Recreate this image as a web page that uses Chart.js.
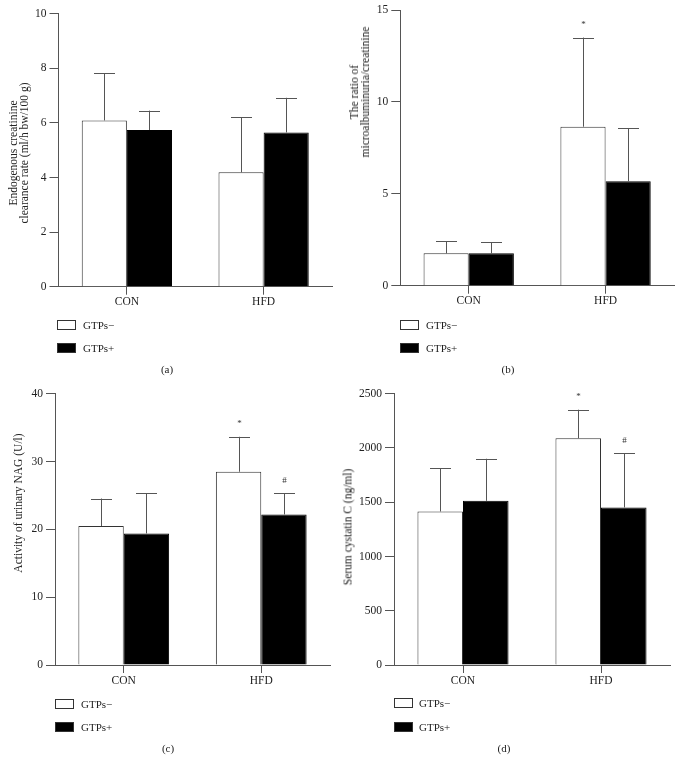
<!DOCTYPE html>
<html>
<head>
<meta charset="utf-8">
<script src="https://cdn.jsdelivr.net/npm/chart.js@4.4.1/dist/chart.umd.min.js"></script>
<style>
    body { margin: 0; background: #fff; font-family: "Liberation Serif", "DejaVu Serif", serif; color: #222; }
    #page { position: relative; width: 682px; height: 770px; overflow: hidden; }
    .panel { position: absolute; width: 341px; height: 385px; }
    .panel canvas { position: absolute; left: 0; top: 0; }
    .ytitle { position: absolute; transform: translate(-50%, -50%) rotate(-90deg); white-space: nowrap;
              text-align: center; font-size: 11.5px; line-height: 11px; }
    .box { position: absolute; width: 17px; height: 8px; border: 1px solid #333; }
    .box.white { background: #fff; }
    .box.black { background: #000; }
    .legtext { position: absolute; font-size: 11px; line-height: 11px; transform: translateY(-50%); }
    .caption { position: absolute; font-size: 11px; transform: translate(-50%, -50%); }
</style>
</head>
<body>
<div id="page">
    <div class="panel" style="left:0;top:0"><canvas id="chartA" width="341" height="385"></canvas></div>
    <div class="panel" style="left:341px;top:0"><canvas id="chartB" width="341" height="385"></canvas></div>
    <div class="panel" style="left:0;top:385px"><canvas id="chartC" width="341" height="385"></canvas></div>
    <div class="panel" style="left:341px;top:385px"><canvas id="chartD" width="341" height="385"></canvas></div>

    <div class="ytitle" style="left:19px;top:153px">Endogenous creatinine<br>clearance rate (ml/h bw/100 g)</div>
    <div class="ytitle" style="left:360px;top:92px">The ratio of<br>microalbuminuria/creatinine</div>
    <div class="ytitle" style="left:18px;top:503px">Activity of urinary NAG (U/l)</div>
    <div class="ytitle" style="left:348px;top:527px">Serum cystatin C (ng/ml)</div>

    <div class="box white" style="left:57px;top:320px"></div><div class="legtext" style="left:83px;top:325px">GTPs−</div>
    <div class="box black" style="left:57px;top:343px"></div><div class="legtext" style="left:83px;top:348px">GTPs+</div>
    <div class="caption" style="left:167px;top:369px">(a)</div>

    <div class="box white" style="left:400px;top:320px"></div><div class="legtext" style="left:426px;top:325px">GTPs−</div>
    <div class="box black" style="left:400px;top:343px"></div><div class="legtext" style="left:426px;top:348px">GTPs+</div>
    <div class="caption" style="left:508px;top:369px">(b)</div>

    <div class="box white" style="left:55px;top:699px"></div><div class="legtext" style="left:81px;top:704px">GTPs−</div>
    <div class="box black" style="left:55px;top:722px"></div><div class="legtext" style="left:81px;top:727px">GTPs+</div>
    <div class="caption" style="left:168px;top:748px">(c)</div>

    <div class="box white" style="left:394px;top:698px"></div><div class="legtext" style="left:419px;top:703px">GTPs−</div>
    <div class="box black" style="left:394px;top:722px"></div><div class="legtext" style="left:419px;top:727px">GTPs+</div>
    <div class="caption" style="left:504px;top:748px">(d)</div>
</div>

<script>
const categories = ["CON", "HFD"];
const groupLabels = ["GTPs−", "GTPs+"];

// (a) endogenous creatinine clearance rate
const ccrTicks = [0, 2, 4, 6, 8, 10];
const ccrMinus = [6.09, 4.19];
const ccrMinusSd = [1.72, 2.02];
const ccrPlus = [5.74, 5.65];
const ccrPlusSd = [0.71, 1.27];
const ccrMarksMinus = ["", ""];
const ccrMarksPlus = ["", ""];

// (b) microalbuminuria / creatinine
const malbTicks = [0, 5, 10, 15];
const malbMinus = [1.76, 8.65];
const malbMinusSd = [0.65, 4.85];
const malbPlus = [1.76, 5.68];
const malbPlusSd = [0.60, 2.90];
const malbMarksMinus = ["", "*"];
const malbMarksPlus = ["", ""];

// (c) urinary NAG
const nagTicks = [0, 10, 20, 30, 40];
const nagMinus = [20.5, 28.5];
const nagMinusSd = [4.05, 5.15];
const nagPlus = [19.4, 22.2];
const nagPlusSd = [5.95, 3.10];
const nagMarksMinus = ["", "*"];
const nagMarksPlus = ["", "#"];

// (d) serum cystatin C
const cysTicks = [0, 500, 1000, 1500, 2000, 2500];
const cysMinus = [1415, 2090];
const cysMinusSd = [397, 263];
const cysPlus = [1513, 1452];
const cysPlusSd = [388, 498];
const cysMarksMinus = ["", "*"];
const cysMarksPlus = ["", "#"];

const axisColor = "#555";
const serif = "'Liberation Serif', 'DejaVu Serif', serif";

// whiskers (upper only) plus significance marks above them
const errorBars = {
    id: "errorBars",
    afterDatasetsDraw(chart) {
        const ctx = chart.ctx;
        const y = chart.scales.y;
        chart.data.datasets.forEach((ds, i) => {
            const meta = chart.getDatasetMeta(i);
            meta.data.forEach((bar, j) => {
                const top = y.getPixelForValue(ds.data[j] + ds.sd[j]);
                const x = Math.round(bar.x) + 0.5;
                ctx.save();
                ctx.strokeStyle = axisColor;
                ctx.lineWidth = 1;
                ctx.beginPath();
                ctx.moveTo(x, bar.y);
                ctx.lineTo(x, top);
                ctx.moveTo(x - 10.5, Math.round(top) + 0.5);
                ctx.lineTo(x + 10.5, Math.round(top) + 0.5);
                ctx.stroke();
                if (ds.marks[j]) {
                    ctx.fillStyle = "#333";
                    ctx.font = "9px " + serif;
                    ctx.textAlign = "center";
                    ctx.textBaseline = "middle";
                    ctx.fillText(ds.marks[j], x, top - 13);
                }
                ctx.restore();
            });
        });
    }
};

function makeChart(id, box, ticks, minus, minusSd, marksMinus, plus, plusSd, marksPlus) {
    const H = 385, W = 341, xHeight = 30;
    return new Chart(document.getElementById(id), {
        type: "bar",
        data: {
            labels: categories,
            datasets: [{
                label: groupLabels[0],
                data: minus,
                sd: minusSd,
                marks: marksMinus,
                backgroundColor: "#fff",
                borderColor: "#333",
                borderWidth: 1
            }, {
                label: groupLabels[1],
                data: plus,
                sd: plusSd,
                marks: marksPlus,
                backgroundColor: "#000",
                borderColor: "#000",
                borderWidth: 1
            }]
        },
        options: {
            responsive: false,
            animation: false,
            events: [],
            barPercentage: 1,
            categoryPercentage: 0.66,
            layout: {
                padding: { left: 0, top: box.top, right: W - box.right, bottom: H - box.bottom - xHeight }
            },
            plugins: { legend: { display: false }, tooltip: { enabled: false } },
            scales: {
                x: {
                    afterFit: s => { s.height = xHeight; },
                    grid: { offset: false, drawOnChartArea: false, drawTicks: true, tickLength: 8, color: axisColor },
                    border: { color: axisColor, width: 1 },
                    ticks: { color: "#222", padding: 2, font: { family: serif, size: 11.5, lineHeight: 1 } }
                },
                y: {
                    min: ticks[0],
                    max: ticks[ticks.length - 1],
                    afterFit: s => { s.width = box.left; },
                    afterBuildTicks: s => { s.ticks = ticks.map(v => ({ value: v })); },
                    grid: { drawOnChartArea: false, drawTicks: true, tickLength: 9, color: axisColor },
                    border: { color: axisColor, width: 1 },
                    ticks: { color: "#222", padding: 3, callback: v => String(v),
                             font: { family: serif, size: 11.5, lineHeight: 1 } }
                }
            }
        },
        plugins: [errorBars]
    });
}

makeChart("chartA", { left: 58.5, right: 332, top: 13.7, bottom: 286.7 },
    ccrTicks, ccrMinus, ccrMinusSd, ccrMarksMinus, ccrPlus, ccrPlusSd, ccrMarksPlus);
makeChart("chartB", { left: 59.3, right: 333, top: 10, bottom: 285.7 },
    malbTicks, malbMinus, malbMinusSd, malbMarksMinus, malbPlus, malbPlusSd, malbMarksPlus);
makeChart("chartC", { left: 55, right: 330, top: 5, bottom: 280 },
    nagTicks, nagMinus, nagMinusSd, nagMarksMinus, nagPlus, nagPlusSd, nagMarksPlus);
makeChart("chartD", { left: 53, right: 329, top: 7.3, bottom: 280 },
    cysTicks, cysMinus, cysMinusSd, cysMarksMinus, cysPlus, cysPlusSd, cysMarksPlus);
</script>
</body>
</html>
